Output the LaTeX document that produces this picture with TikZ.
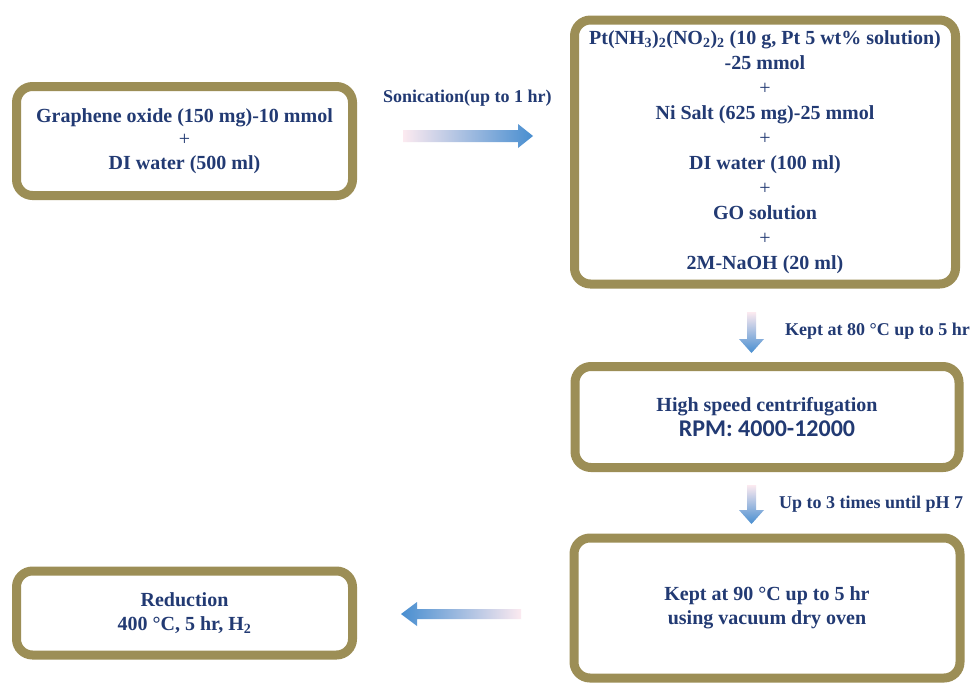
\documentclass[tikz,border=0pt]{standalone}
\usepackage{fontspec}
\setmainfont{LiberationSerif}[Extension=.ttf, UprightFont=*-Regular, BoldFont=*-Bold, ItalicFont=*-Italic, BoldItalicFont=*-BoldItalic]
\newfontfamily\rpmfont{Carlito}
\definecolor{boxborder}{RGB}{156,142,86}
\definecolor{txt}{RGB}{34,58,115}
\definecolor{arrblue}{RGB}{72,142,208}
\definecolor{arrlight}{RGB}{165,205,238}
\definecolor{arrpink}{RGB}{252,234,240}
\begin{document}
\begin{tikzpicture}[x=1pt,y=-1pt,
  procbox/.style={draw=boxborder, line width=9pt, rounded corners=16pt, fill=white,
    align=center, text=txt, font=\fontsize{20}{23.5}\selectfont\bfseries, inner sep=0pt},
  lbl/.style={text=txt, font=\fontsize{18}{20}\selectfont\bfseries, anchor=west, inner sep=0pt},
  hshade/.style={left color=arrpink, middle color=arrlight, right color=arrblue},
  hshadeL/.style={left color=arrblue, middle color=arrlight, right color=arrpink},
  vshade/.style={top color=arrpink, middle color=arrlight, bottom color=arrblue}]
\useasboundingbox[fill=white] (0,0) rectangle (973,683);

\node[procbox, minimum width=336pt, minimum height=109pt] (go) at (184.5,141)
  {Graphene oxide (150 mg)-10 mmol\\{\mdseries +}\\DI water (500 ml)};
\node[procbox, minimum width=381pt, minimum height=264pt,
  font=\fontsize{20}{25}\selectfont\bfseries] (mix) at (765,152)
  {Pt(NH\textsubscript{3})\textsubscript{2}(NO\textsubscript{2})\textsubscript{2} (10 g, Pt 5 wt\% solution)\\-25 mmol\\{\mdseries +}\\Ni Salt (625 mg)-25 mmol\\{\mdseries +}\\DI water (100 ml)\\{\mdseries +}\\GO solution\\{\mdseries +}\\2M-NaOH (20 ml)};
\node[procbox, minimum width=384pt, minimum height=101pt] (cen) at (767,417)
  {High speed centrifugation\\[2pt]{\rpmfont\fontsize{24}{26}\selectfont\bfseries RPM: 4000-12000}};
\node[procbox, minimum width=386pt, minimum height=140pt] (dry) at (767,608)
  {Kept at 90 °C up to 5 hr\\using vacuum dry oven};
\node[procbox, minimum width=336pt, minimum height=84pt] (red) at (184.5,613)
  {Reduction\\400 °C, 5 hr, H\textsubscript{2}};

\node[lbl] (l1) at (383,98) {Sonication(up to 1 hr)};
\node[lbl] (l2) at (785,331) {Kept at 80 °C up to 5 hr};
\node[lbl] (l3) at (779,504) {Up to 3 times until pH 7};

% block arrows
\shade[hshade] (403,130) -- (518,130) -- (518,124) -- (533,136) -- (518,148) -- (518,142) -- (403,142) -- cycle;
\shade[vshade] (747,312) -- (756,312) -- (756,339) -- (764,339) -- (751.5,353) -- (739,339) -- (747,339) -- cycle;
\shade[vshade] (747,485) -- (756,485) -- (756,510) -- (764,510) -- (751.5,524) -- (739,510) -- (747,510) -- cycle;
\shade[hshadeL] (521,609) -- (417,609) -- (417,602) -- (401,614) -- (417,626) -- (417,619) -- (521,619) -- cycle;
\end{tikzpicture}
\end{document}
